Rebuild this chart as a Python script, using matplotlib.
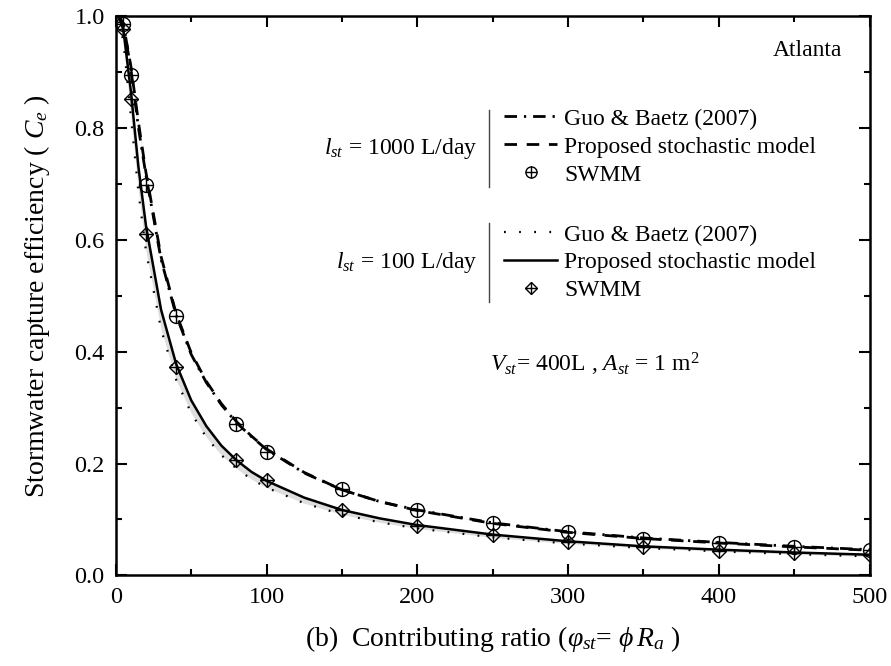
import matplotlib
matplotlib.use("Agg")
import matplotlib.pyplot as plt
from matplotlib.lines import Line2D
from matplotlib.ticker import MultipleLocator, FormatStrFormatter

plt.rcParams['font.family'] = ['Liberation Serif', 'DejaVu Serif']
plt.rcParams['mathtext.fontset'] = 'custom'
plt.rcParams['mathtext.rm'] = 'Liberation Serif'
plt.rcParams['mathtext.it'] = 'Liberation Serif:italic'

# model curves
x_curve = [2, 5, 10, 15, 20, 30, 40, 50, 60, 70, 80, 90, 100, 125, 150, 175,
           200, 250, 300, 350, 400, 450, 500]
guo_1000 = [1.0, 0.985, 0.905, 0.80, 0.715, 0.565, 0.465, 0.395, 0.345, 0.305,
            0.273, 0.248, 0.225, 0.183, 0.153, 0.132, 0.117, 0.094, 0.078,
            0.067, 0.059, 0.052, 0.046]
prop_1000 = [1.0, 0.985, 0.91, 0.81, 0.72, 0.57, 0.468, 0.398, 0.347, 0.307,
             0.275, 0.249, 0.226, 0.184, 0.153, 0.132, 0.116, 0.093, 0.077,
             0.066, 0.058, 0.051, 0.045]
guo_100 = [0.99, 0.955, 0.82, 0.685, 0.58, 0.44, 0.35, 0.29, 0.247, 0.215,
           0.191, 0.172, 0.157, 0.129, 0.109, 0.095, 0.084, 0.068, 0.057,
           0.049, 0.043, 0.038, 0.034]
prop_100 = [1.0, 0.975, 0.865, 0.73, 0.625, 0.475, 0.378, 0.313, 0.267, 0.232,
            0.206, 0.185, 0.169, 0.139, 0.117, 0.102, 0.090, 0.073, 0.061,
            0.052, 0.046, 0.041, 0.037]

# SWMM simulations
x_swmm = [5, 10, 20, 40, 80, 100, 150, 200, 250, 300, 350, 400, 450, 500]
swmm_1000 = [0.985, 0.894, 0.698, 0.463, 0.270, 0.221, 0.155, 0.117, 0.094,
             0.077, 0.066, 0.058, 0.051, 0.045]
swmm_100 = [0.976, 0.851, 0.610, 0.372, 0.207, 0.171, 0.117, 0.088, 0.072,
            0.060, 0.051, 0.044, 0.040, 0.037]

fig = plt.figure(figsize=(8.91, 6.66), dpi=100)
ax = fig.add_axes([0.130, 0.136, 0.846, 0.840])

ax.fill_between(x_curve, guo_100, prop_100, color='#dedede', lw=0)
ax.fill_between(x_curve, guo_1000, prop_1000, color='#e8e8e8', lw=0)

dashdot = (0, (4.5, 2.5, 0.8, 2.5))
dashed = (0, (4.5, 3.5))
dotted = (0, (0.8, 6))

ax.plot(x_curve, guo_1000, color='k', lw=2, linestyle=dashdot)
ax.plot(x_curve, prop_1000, color='k', lw=2, linestyle=dashed)
ax.plot(x_curve, guo_100, color='k', lw=1.6, linestyle=dotted)
ax.plot(x_curve, prop_100, color='k', lw=1.8, linestyle='-')

ax.plot(x_swmm, swmm_1000, 'o', ms=10, mfc='none', mec='k', mew=1)
ax.plot(x_swmm, swmm_1000, '+', ms=10, mec='k', mew=1)
ax.plot(x_swmm, swmm_100, 'D', ms=7.5, mfc='none', mec='k', mew=1)
ax.plot(x_swmm, swmm_100, '+', ms=10.5, mec='k', mew=1)

ax.set_xlim(0, 500)
ax.set_ylim(0, 1.0)
ax.xaxis.set_major_locator(MultipleLocator(100))
ax.xaxis.set_minor_locator(MultipleLocator(50))
ax.yaxis.set_major_locator(MultipleLocator(0.2))
ax.yaxis.set_minor_locator(MultipleLocator(0.1))
ax.yaxis.set_major_formatter(FormatStrFormatter('%.1f'))
ax.tick_params(which='both', direction='in', top=True, right=True,
               labelsize=17.5, width=1.5)
ax.tick_params(which='major', length=8, pad=8)
ax.tick_params(which='minor', length=4)
for s in ax.spines.values():
    s.set_linewidth(1.8)

ax.set_xlabel(r'(b)  Contributing ratio ($\varphi_{st}$= $\phi\, R_{a}$ )',
              fontsize=20, labelpad=12)
ax.set_ylabel(r'Stormwater capture efficiency ( $C_{e}$ )', fontsize=20,
              labelpad=16)

ax.text(0.963, 0.939, 'Atlanta', transform=ax.transAxes, fontsize=17,
        ha='right', va='center')

# legend groups
circ = (Line2D([], [], marker='o', ls='none', ms=8, mfc='none', mec='k', mew=1),
        Line2D([], [], marker='+', ls='none', ms=8, mec='k', mew=1))
diam = (Line2D([], [], marker='D', ls='none', ms=6, mfc='none', mec='k', mew=1),
        Line2D([], [], marker='+', ls='none', ms=8.5, mec='k', mew=1))
labels = ['Guo & Baetz (2007)', 'Proposed stochastic model', 'SWMM']

h1 = [Line2D([], [], color='k', lw=2, ls=dashdot),
      Line2D([], [], color='k', lw=2, ls=dashed), circ]
h2 = [Line2D([], [], color='k', lw=1.6, ls=dotted),
      Line2D([], [], color='k', lw=1.8, ls='-'), diam]

leg_kw = dict(loc='center left', frameon=False, fontsize=17, borderpad=0,
              borderaxespad=0, handlelength=2.25, handletextpad=0.3,
              labelspacing=0.27)
leg1 = ax.legend(h1, labels, bbox_to_anchor=(0.515, 0.766), **leg_kw)
ax.add_artist(leg1)
ax.legend(h2, labels, bbox_to_anchor=(0.515, 0.559), **leg_kw)

ax.plot([0.495, 0.495], [0.694, 0.832], color='#444444', lw=1,
        transform=ax.transAxes)
ax.plot([0.495, 0.495], [0.489, 0.630], color='#444444', lw=1,
        transform=ax.transAxes)
ax.text(0.480, 0.764, r'$l_{st}$ = 1000 L/day', transform=ax.transAxes,
        fontsize=17, ha='right', va='center')
ax.text(0.480, 0.559, r'$l_{st}$ = 100 L/day', transform=ax.transAxes,
        fontsize=17, ha='right', va='center')
ax.text(0.636, 0.378, r'$V_{st}$= 400L , $A_{st}$ = 1 m$^{2}$',
        transform=ax.transAxes, fontsize=17, ha='center', va='center')

fig.savefig('out.png', dpi=100)
